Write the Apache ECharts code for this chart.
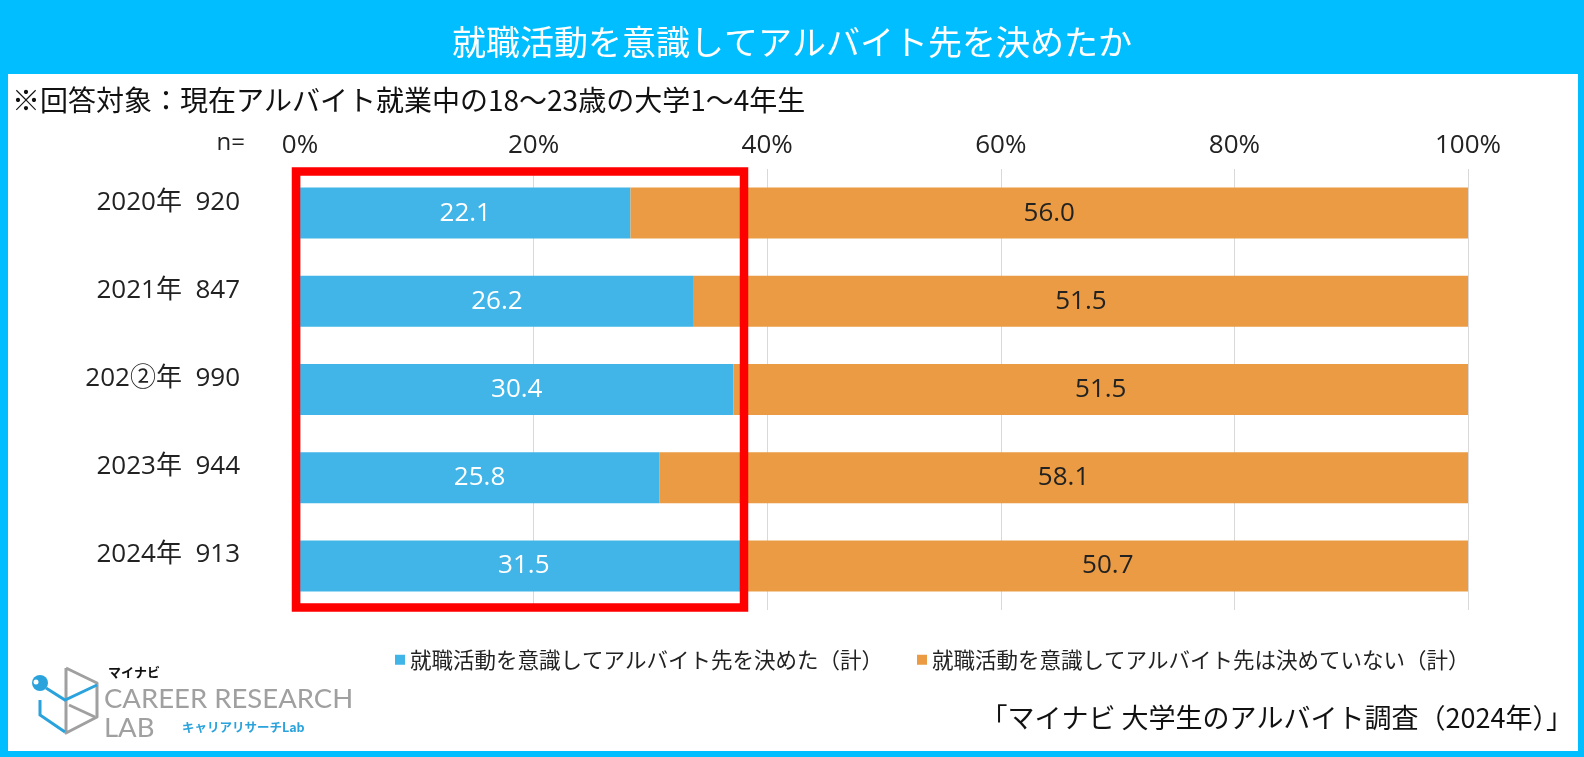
<!DOCTYPE html>
<html>
<head>
<meta charset="utf-8">
<script src="https://cdn.jsdelivr.net/npm/echarts@6/dist/echarts.min.js"></script>
<style>
html,body{margin:0;padding:0;background:#00BEFF;}
#c{width:1584px;height:757px;}
</style>
</head>
<body>
<div id="c"></div>
<script>
// ---- data ----
const years = ['2020年', '2021年', '202②年', '2023年', '2024年'];
const nValues = [920, 847, 990, 944, 913];
const decided = [22.1, 26.2, 30.4, 25.8, 31.5];      // 就職活動を意識してアルバイト先を決めた（計）
const notDecided = [56.0, 51.5, 51.5, 58.1, 50.7];   // 就職活動を意識してアルバイト先は決めていない（計）
const seriesNames = ['就職活動を意識してアルバイト先を決めた（計）', '就職活動を意識してアルバイト先は決めていない（計）'];
const xMin = 0, xMax = 100, xInterval = 20;

const categories = years.map((y, i) => y + '  ' + nValues[i]);
const decidedShare = decided.map((v, i) => v / (v + notDecided[i]) * 100);
const notDecidedShare = decidedShare.map(v => 100 - v);

const FONT = "'Open Sans','Noto Sans CJK JP',sans-serif";
const JP = "'Noto Sans CJK JP','Open Sans',sans-serif";
const BLUE = '#41B5E8';
const ORANGE = '#EA9B43';
const CYAN = '#00BEFF';
const GRAY = '#A0A0A0';
const LOGOBLUE = '#2AA2DC';

const chart = echarts.init(document.getElementById('c'), null, {renderer: 'canvas'});

const option = {
  animation: false,
  title: {
    text: '就職活動を意識してアルバイト先を決めたか',
    left: 'center',
    top: 20,
    textStyle: {color: '#fff', fontSize: 34, fontWeight: 'normal', fontFamily: JP}
  },
  legend: {
    left: 390,
    top: 644,
    icon: 'rect',
    itemWidth: 10,
    itemHeight: 10,
    itemGap: 34,
    textStyle: {fontSize: 21.5, color: '#222', fontFamily: JP},
    data: seriesNames
  },
  grid: {left: 300, right: 116, top: 169, height: 441, containLabel: false},
  xAxis: {
    type: 'value',
    position: 'top',
    min: xMin, max: xMax, interval: xInterval,
    axisLine: {show: false},
    axisTick: {show: false},
    axisLabel: {formatter: '{value}%', fontSize: 26, color: '#222', fontFamily: FONT, margin: 10},
    splitLine: {show: true, lineStyle: {color: '#D9D9D9', width: 1}}
  },
  yAxis: {
    type: 'category',
    inverse: true,
    data: categories,
    axisLine: {show: false},
    axisTick: {show: false},
    axisLabel: {fontSize: 26, color: '#222', fontFamily: FONT, margin: 60, verticalAlign: 'bottom', lineHeight: 22}
  },
  series: [
    {
      name: seriesNames[0], type: 'bar', stack: 'total', barWidth: 51,
      data: decidedShare,
      itemStyle: {color: BLUE},
      label: {show: true, position: 'inside', color: '#fff', fontSize: 26, fontFamily: FONT,
        formatter: p => decided[p.dataIndex].toFixed(1)}
    },
    {
      name: seriesNames[1], type: 'bar', stack: 'total', barWidth: 51,
      data: notDecidedShare,
      itemStyle: {color: ORANGE},
      label: {show: true, position: 'inside', color: '#222', fontSize: 26, fontFamily: FONT,
        formatter: p => notDecided[p.dataIndex].toFixed(1)}
    }
  ],
  graphic: [
    {type: 'rect', z: -10, silent: true, shape: {x: 0, y: 0, width: 1584, height: 757}, style: {fill: CYAN}},
    {type: 'rect', z: -9, silent: true, shape: {x: 8, y: 74, width: 1570, height: 677}, style: {fill: '#fff'}},
    {type: 'text', x: 12, y: 100, style: {text: '※回答対象：現在アルバイト就業中の18～23歳の大学1～4年生', fontSize: 28, fill: '#111', fontFamily: JP, verticalAlign: 'middle'}},
    {type: 'text', x: 245, y: 143, style: {text: 'n=', fontSize: 24, fill: '#222', fontFamily: FONT, align: 'right', verticalAlign: 'middle'}},
    {type: 'text', x: 1573, y: 718, style: {text: '「マイナビ 大学生のアルバイト調査（2024年）」', fontSize: 27, fill: '#111', fontFamily: JP, align: 'right', verticalAlign: 'middle'}},
    // red highlight frame
    {type: 'rect', z: 10, silent: true, shape: {x: 296, y: 171.5, width: 448, height: 436}, style: {fill: 'none', stroke: '#FF0000', lineWidth: 8.5}},
    // logo icon
    {type: 'polyline', z: 5, shape: {points: [[66, 668], [97, 683], [97, 717], [66, 733], [66, 668]]}, style: {stroke: GRAY, lineWidth: 3, fill: 'none', lineJoin: 'round'}},
    {type: 'polyline', z: 5, shape: {points: [[69, 705], [95, 717]]}, style: {stroke: GRAY, lineWidth: 3, fill: 'none'}},
    {type: 'polyline', z: 6, shape: {points: [[46, 688], [65, 700], [97, 685]]}, style: {stroke: LOGOBLUE, lineWidth: 3, fill: 'none'}},
    {type: 'polyline', z: 6, shape: {points: [[40, 700], [40, 715], [65, 732]]}, style: {stroke: LOGOBLUE, lineWidth: 3, fill: 'none'}},
    {type: 'circle', z: 7, shape: {cx: 40, cy: 683, r: 8}, style: {fill: LOGOBLUE}},
    {type: 'circle', z: 8, shape: {cx: 36, cy: 682, r: 2.5}, style: {fill: '#fff'}},
    {type: 'text', x: 108, y: 672, style: {text: 'マイナビ', fontSize: 13, fontWeight: 'bold', fill: '#111', fontFamily: JP, verticalAlign: 'middle'}},
    {type: 'text', x: 104, y: 699, style: {text: 'CAREER RESEARCH', fontSize: 27.5, fill: GRAY, fontFamily: "'Lato','Open Sans',sans-serif", verticalAlign: 'middle'}},
    {type: 'text', x: 104, y: 728, style: {text: 'LAB', fontSize: 27.5, fill: GRAY, fontFamily: "'Lato','Open Sans',sans-serif", verticalAlign: 'middle'}},
    {type: 'text', x: 182, y: 727, style: {text: 'キャリアリサーチLab', fontSize: 12.5, fontWeight: 'bold', fill: LOGOBLUE, fontFamily: JP, verticalAlign: 'middle'}}
  ]
};
chart.setOption(option);
</script>
</body>
</html>
